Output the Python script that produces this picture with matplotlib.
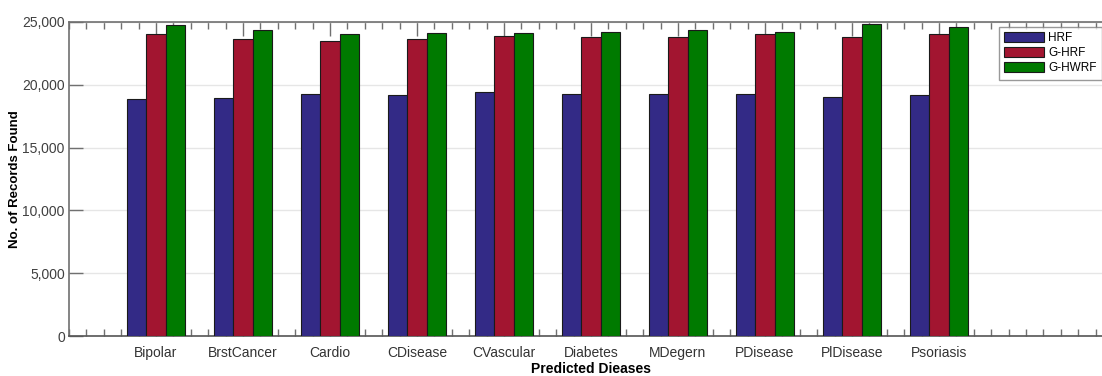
import matplotlib
matplotlib.use('Agg')
import numpy as np
import matplotlib.pyplot as plt
import matplotlib.ticker as ticker

plt.rcParams['font.family'] = ['Liberation Sans', 'DejaVu Sans']

diseases = ['Bipolar', 'BrstCancer', 'Cardio', 'CDisease', 'CVascular',
            'Diabetes', 'MDegern', 'PDisease', 'PlDisease', 'Psoriasis']
hrf = [18850, 18950, 19270, 19190, 19430, 19270, 19270, 19270, 19060, 19190]
ghrf = [24020, 23650, 23510, 23650, 23890, 23780, 23780, 24020, 23780, 24020]
ghwrf = [24740, 24390, 24020, 24120, 24120, 24230, 24360, 24230, 24840, 24600]

series = [('HRF', hrf, '#332A86'), ('G-HRF', ghrf, '#A21530'), ('G-HWRF', ghwrf, '#007A00')]

W, H = 1102, 376
fig = plt.figure(figsize=(W / 100, H / 100), dpi=100)
ax = fig.add_axes([69 / W, 40 / H, 1044 / W, 314 / H])

x = np.arange(1, len(diseases) + 1)
bw = 0.222
for i, (name, vals, col) in enumerate(series):
    ax.bar(x + (i - 1) * bw, vals, width=bw, color=col, edgecolor='#1a1a1a',
           linewidth=0.8, label=name, zorder=3)

ax.set_xlim(0, 12)
ax.set_ylim(0, 25000)
ax.set_xticks(x)
ax.set_xticklabels(diseases, fontsize=10, color='#333333')
ax.xaxis.set_minor_locator(ticker.MultipleLocator(0.2))
ax.set_yticks(np.arange(0, 25001, 5000))
ax.yaxis.set_major_formatter(ticker.FuncFormatter(lambda v, p: '{:,.0f}'.format(v)))
ax.tick_params(axis='y', labelsize=10, colors='#707070', labelcolor='#404040',
               direction='in', length=10, width=1, left=True, right=False, pad=3)
ax.tick_params(axis='x', which='major', direction='in', length=10, width=1,
               colors='#707070', labelcolor='#333333', top=True, bottom=True, pad=7)
ax.tick_params(axis='x', which='minor', direction='in', length=5, width=1,
               colors='#707070', top=True, bottom=True)

ax.grid(axis='y', color='#e6e6e6', linewidth=1, zorder=0)
ax.set_axisbelow(True)
for s in ax.spines.values():
    s.set_color('#707070')
    s.set_linewidth(1.2)
ax.spines['bottom'].set_color('#555555')

ax.set_xlabel('Predicted Dieases', fontsize=10, fontweight='bold')
ax.xaxis.set_label_coords(0.5, -(362 - 336) / 314)
ax.set_ylabel('No. of Records Found', fontsize=9.5, fontweight='bold')
ax.yaxis.set_label_coords(-(69 - 21) / 1044, 0.5)

handles, labels = ax.get_legend_handles_labels()
fig.legend(handles, labels, loc='upper left', bbox_to_anchor=(999 / W, 1 - 27 / H),
           fontsize=8.5, frameon=True, fancybox=False, edgecolor='#808080',
           handlelength=3.4, handleheight=0.9, handletextpad=0.3,
           labelspacing=0.25, borderpad=0.45, borderaxespad=0)

fig.savefig('out.png', dpi=100)
